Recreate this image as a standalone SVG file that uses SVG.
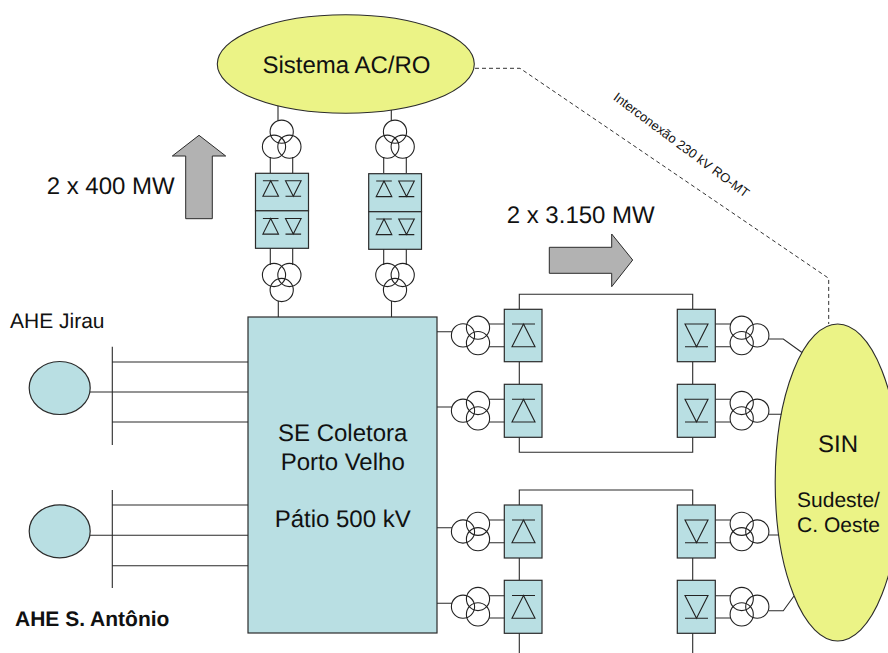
<svg xmlns="http://www.w3.org/2000/svg" width="888" height="653" viewBox="0 0 888 653">
<style>
text{font-family:"Liberation Sans",Arial,sans-serif;fill:#111;text-rendering:geometricPrecision}
.ln{fill:none;stroke:#2b2b2b;stroke-width:1.1}
.dash{fill:none;stroke:#333;stroke-width:1;stroke-dasharray:4 3}
.box{fill:#b9dfe3;stroke:#2b2b2b;stroke-width:1.2}
.yel{fill:#ebf386;stroke:#2b2b2b;stroke-width:1.1}
.arr{fill:#b2b2b2;stroke:#2b2b2b;stroke-width:1}
.c{fill:none;stroke:#222;stroke-width:1.1}
.d{fill:none;stroke:#222;stroke-width:1.1}
.t24{font-size:24px}
.t21{font-size:21px}
</style>
<defs>
<circle id="ci" class="c" r="11.6"/>
<g id="txU"><use href="#ci" x="0" y="-7.5"/><use href="#ci" x="-7.7" y="7.5"/><use href="#ci" x="7.7" y="7.5"/></g>
<g id="txD"><use href="#ci" x="-7.7" y="-7.5"/><use href="#ci" x="7.7" y="-7.5"/><use href="#ci" x="0" y="7.5"/></g>
<g id="txL"><use href="#ci" x="-7.5" y="0"/><use href="#ci" x="7.5" y="-7.7"/><use href="#ci" x="7.5" y="7.7"/></g>
<g id="txR"><use href="#ci" x="-7.8" y="-7.7"/><use href="#ci" x="-7.8" y="7.7"/><use href="#ci" x="7.8" y="0"/></g>
<path id="upB" class="d" d="M-11.5 0H11.5M0 0L-11.5 22.7H11.5Z"/>
<path id="dnB" class="d" d="M-11.5 0H11.5L0 22.7ZM-11.5 22.7H11.5"/>
<path id="upS" class="d" d="M-7.8 0H7.8M0 0L-7.8 15.6H7.8Z"/>
<path id="dnS" class="d" d="M-7.8 0H7.8L0 15.6ZM-7.8 15.6H7.8"/>
</defs>

<g id="connectors">
<path class="ln" d="M112.3 346.7V445M112.3 362H248M90 392H248M112.3 422H248"/>
<path class="ln" d="M112.3 490V588M112.3 505H248M90 535.3H248M112.3 565.7H248"/>
<path class="ln" d="M278 100V121M391.3 100V121M270.3 157V173M292.7 157V173M383.7 157V173M406.3 157V173"/>
<path class="ln" d="M270.3 248V265M292.7 248V265M383.7 249V265M406.3 249V265M278.3 301V317M391.5 301V317"/>
<path class="ln" d="M437 331.7H452M437 407H452M437 527.7H452M437 603.3H452"/>
<path class="ln" d="M489 324H505M489 346.7H505M489 399.3H505M489 422H505M489 520H505M489 542.7H505M489 595.7H505M489 618H505"/>
<path class="ln" d="M715 324H731M715 346.7H731M715 399.3H731M715 422H731M715 520H731M715 542.7H731M715 595.7H731M715 618H731"/>
<path class="ln" d="M519.3 309V294.3H692.7V309M519.3 362V384M692.7 362V384M519.3 437V452.3H692.7V437"/>
<path class="ln" d="M519.3 505V490H692.7V505M519.3 558V580M692.7 558V580M519.3 633V653M692.7 633V653"/>
<path class="ln" d="M768.7 339H783.3L802 352.5M768.7 414.3H782M768.7 535H782M768.7 610.7H783.3L794 596"/>
<path class="dash" d="M475 68.3H520L828.7 278.3V324"/>
</g>

<g id="sistema-ac-ro"><ellipse class="yel" cx="345.8" cy="64" rx="128.5" ry="49.3"/><text class="t24" x="346.5" y="72.5" text-anchor="middle">Sistema AC/RO</text></g>
<g id="sin"><ellipse class="yel" cx="837.7" cy="482.5" rx="62.5" ry="158.5"/><text class="t24" x="838" y="451.5" text-anchor="middle">SIN</text><text class="t21" x="838.5" y="506.5" text-anchor="middle">Sudeste/</text><text class="t21" x="838.5" y="531.5" text-anchor="middle">C. Oeste</text></g>
<g id="se-coletora"><rect class="box" x="248" y="317" width="189" height="316"/><text class="t24" x="342.7" y="441" text-anchor="middle">SE Coletora</text><text class="t24" x="342.7" y="470" text-anchor="middle">Porto Velho</text><text class="t24" x="342.7" y="526.5" text-anchor="middle">Pátio 500 kV</text></g>

<g id="gen-jirau"><ellipse class="box" cx="59.7" cy="388" rx="30.5" ry="26.5"/></g>
<g id="gen-santo-antonio"><ellipse class="box" cx="59.7" cy="531.3" rx="30.5" ry="26.5"/></g>
<text id="label-jirau" x="10" y="327.5" style="font-size:21px">AHE Jirau</text>
<text id="label-santo-antonio" x="15" y="625.5" font-weight="bold" style="font-size:21px">AHE S. Antônio</text>

<g id="arrow-400"><path class="arr" d="M199 135.3L225.7 156H212.3V218.7H185.7V156H172.3Z"/></g>
<text id="label-400" class="t24" x="46.7" y="194">2 x 400 MW</text>
<g id="arrow-3150"><path class="arr" d="M549.3 247.3H611.7V234L632.7 260L611.7 286.7V273.3H549.3Z"/></g>
<text id="label-3150" class="t24" x="506.7" y="223.3">2 x 3.150 MW</text>
<text id="label-interconexao" x="0" y="0" transform="translate(612.5 99) rotate(36.8)" style="font-size:13px">Interconexão 230 kV RO-MT</text>

<g id="conv-ac-1"><rect class="box" x="255.5" y="173.3" width="53" height="37.5"/><rect class="box" x="255.5" y="210.8" width="53" height="37.5"/>
<use href="#upS" x="270.7" y="180.7"/><use href="#dnS" x="293.3" y="180.7"/><use href="#upS" x="270.7" y="218.5"/><use href="#dnS" x="293.3" y="218.5"/></g>
<g id="conv-ac-2"><rect class="box" x="368.7" y="173.7" width="52.8" height="38"/><rect class="box" x="368.7" y="211.7" width="52.8" height="37.6"/>
<use href="#upS" x="384" y="181"/><use href="#dnS" x="406.5" y="181"/><use href="#upS" x="384" y="219"/><use href="#dnS" x="406.5" y="219"/></g>
<g id="tx-ac-top-1"><use href="#txU" x="281.7" y="139.2"/></g>
<g id="tx-ac-top-2"><use href="#txU" x="395" y="139.2"/></g>
<g id="tx-ac-bot-1"><use href="#txD" x="281.7" y="282.5"/></g>
<g id="tx-ac-bot-2"><use href="#txD" x="395" y="282.5"/></g>

<g id="rect-1"><rect class="box" x="504.3" y="309.3" width="37.7" height="52.4"/><use href="#upB" x="523.5" y="324"/></g>
<g id="rect-2"><rect class="box" x="504.3" y="384.3" width="37.7" height="53"/><use href="#upB" x="523.5" y="399.3"/></g>
<g id="rect-3"><rect class="box" x="504.3" y="505" width="37.7" height="53"/><use href="#upB" x="523.5" y="520"/></g>
<g id="rect-4"><rect class="box" x="504.3" y="580.3" width="37.7" height="53"/><use href="#upB" x="523.5" y="595.5"/></g>
<g id="inv-1"><rect class="box" x="677.3" y="309.3" width="38" height="52.4"/><use href="#dnB" x="696.5" y="324"/></g>
<g id="inv-2"><rect class="box" x="677.3" y="384.3" width="38" height="53"/><use href="#dnB" x="696.5" y="399.3"/></g>
<g id="inv-3"><rect class="box" x="677.3" y="505" width="38" height="53"/><use href="#dnB" x="696.5" y="520"/></g>
<g id="inv-4"><rect class="box" x="677.3" y="580.3" width="38" height="53"/><use href="#dnB" x="696.5" y="595.5"/></g>

<g id="tx-r-1"><use href="#txL" x="470.5" y="335.4"/></g>
<g id="tx-r-2"><use href="#txL" x="470.5" y="410.7"/></g>
<g id="tx-r-3"><use href="#txL" x="470.5" y="531.5"/></g>
<g id="tx-r-4"><use href="#txL" x="470.5" y="606.7"/></g>
<g id="tx-i-1"><use href="#txR" x="749.5" y="335.4"/></g>
<g id="tx-i-2"><use href="#txR" x="749.5" y="410.7"/></g>
<g id="tx-i-3"><use href="#txR" x="749.5" y="531.5"/></g>
<g id="tx-i-4"><use href="#txR" x="749.5" y="606.7"/></g>
</svg>
